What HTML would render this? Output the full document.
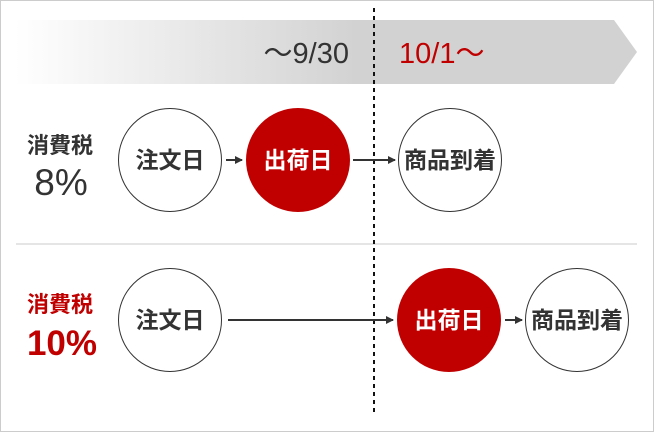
<!DOCTYPE html>
<html><head><meta charset="utf-8"><style>
body{margin:0;background:#fff}
svg text{font-family:"Liberation Sans","Noto Sans CJK JP",sans-serif}
</style></head><body>
<svg width="654" height="432" viewBox="0 0 654 432" xmlns="http://www.w3.org/2000/svg">
<defs><linearGradient id="g" x1="0" x2="1"><stop offset="0" stop-color="#fff"/><stop offset="0.55" stop-color="#d2d2d2"/><stop offset="1" stop-color="#d2d2d2"/></linearGradient>
<marker id="a" markerWidth="8" markerHeight="8" refX="7" refY="4" orient="auto" markerUnits="userSpaceOnUse"><path d="M0,0L8,4L0,8z" fill="#333"/></marker></defs>
<rect x="0.5" y="0.5" width="653" height="431" fill="#fff" stroke="#ccc"/>
<path d="M15,20H614L637,52L614,84H15z" fill="url(#g)"/>
<text x="349" y="63" font-size="29" fill="#333" text-anchor="end">～9/30</text>
<text x="399" y="63" font-size="29" fill="#c00000">10/1～</text>
<line x1="16" y1="244" x2="637" y2="244" stroke="#e5e5e5" stroke-width="2"/>
<line x1="374" y1="8" x2="374" y2="416" stroke="#111" stroke-width="2" stroke-dasharray="4,4"/>
<text x="60" y="153" font-size="22" font-weight="bold" fill="#333" text-anchor="middle">消費税</text>
<text x="61" y="195" font-size="37" fill="#333" text-anchor="middle">8%</text>
<text x="60" y="312" font-size="22" font-weight="bold" fill="#c00000" text-anchor="middle">消費税</text>
<text x="62" y="355" font-size="35" font-weight="bold" fill="#c00000" text-anchor="middle">10%</text>
<g font-size="23" font-weight="bold" text-anchor="middle">
<circle cx="170" cy="160" r="51.5" fill="#fff" stroke="#333"/><text x="170" y="168" fill="#333">注文日</text>
<circle cx="298" cy="160" r="52" fill="#c00000"/><text x="298" y="168" fill="#fff">出荷日</text>
<circle cx="450" cy="160" r="51.5" fill="#fff" stroke="#333"/><text x="450" y="168" fill="#333">商品到着</text>
<circle cx="170" cy="320" r="51.5" fill="#fff" stroke="#333"/><text x="170" y="328" fill="#333">注文日</text>
<circle cx="449" cy="320" r="52" fill="#c00000"/><text x="449" y="328" fill="#fff">出荷日</text>
<circle cx="577" cy="320" r="51.5" fill="#fff" stroke="#333"/><text x="577" y="328" fill="#333">商品到着</text>
</g>
<g stroke="#333" stroke-width="2" marker-end="url(#a)">
<line x1="226" y1="160" x2="242" y2="160"/>
<line x1="353" y1="160" x2="395" y2="160"/>
<line x1="228" y1="320" x2="393" y2="320"/>
<line x1="505" y1="320" x2="522" y2="320"/>
</g>
</svg>
</body></html>
